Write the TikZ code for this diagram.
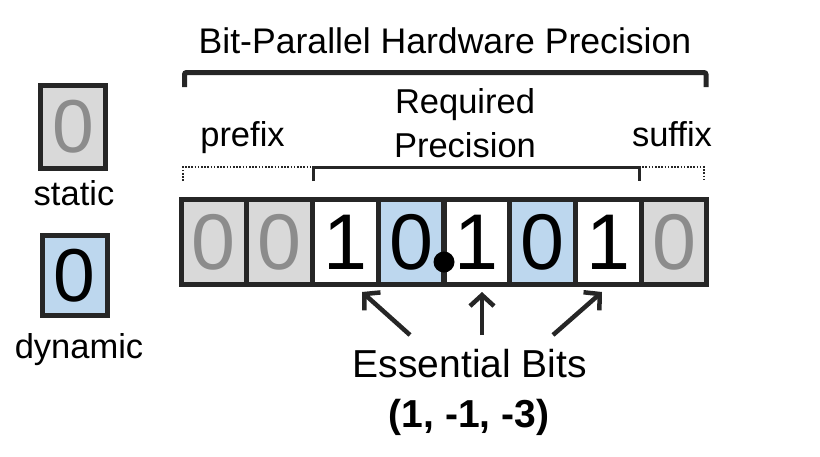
\documentclass[tikz,border=0pt]{standalone}
\usepackage{fontspec}
\setmainfont{Liberation Sans}
\usetikzlibrary{arrows.meta}
\definecolor{cellgray}{HTML}{D9D9D9}
\definecolor{cellblue}{HTML}{BDD7EE}
\definecolor{digitgray}{HTML}{8C8C8C}
\definecolor{edgecol}{HTML}{262626}
\begin{document}
\begin{tikzpicture}[x=1pt,y=-1pt,
  cellbox/.style={draw=edgecol, line width=5pt, inner sep=0pt, minimum width=65.75pt, minimum height=85pt, font=\fontsize{79}{90}\selectfont},
  staticcell/.style={cellbox, fill=cellgray, text=digitgray},
  dyncell/.style={cellbox, fill=cellblue, text=black},
  plaincell/.style={cellbox, fill=white, text=black},
  legendbox/.style={draw=edgecol, line width=5pt, inner sep=0pt, minimum width=65pt, font=\fontsize{75}{85}\selectfont},
  lbl/.style={inner sep=0pt, anchor=base},
  midfont/.style={font=\fontsize{34.5}{40}\selectfont},
  essarrow/.style={line width=4.5pt, draw=edgecol, -{Straight Barb[length=11pt,width=24pt]}},
]
\useasboundingbox (0,0) rectangle (820,456);
% title and big bracket
\node[lbl, font=\fontsize{35.6}{40}\selectfont] (title) at (445,53) {Bit-Parallel Hardware Precision};
\draw[line width=5pt, draw=edgecol, rounded corners=2pt] (184.5,87) -- (184.5,72.5) -- (706,72.5) -- (706,87);
% labels
\node[lbl, midfont] (req1) at (465,113) {Required};
\node[lbl, midfont] (req2) at (465,157) {Precision};
\node[lbl, midfont] (prefix) at (242.5,146) {prefix};
\node[lbl, midfont] (suffix) at (672,146) {suffix};
% small brackets
\draw[line width=2.2pt, draw=edgecol, dash pattern=on 1.6pt off 1.6pt] (183,181) -- (183,167) -- (313,167);
\draw[line width=2.2pt, draw=edgecol, dash pattern=on 1.6pt off 1.6pt] (639,167) -- (704,167) -- (704,181);
\draw[line width=3pt, draw=edgecol] (313,181) -- (313,167) -- (639,167) -- (639,181);
% cells
\node[staticcell] (c1) at (213.9,242) {0};
\node[staticcell] (c2) at (279.6,242) {0};
\node[plaincell]  (c3) at (345.4,242) {1};
\node[dyncell]    (c4) at (411.1,242) {0};
\node[plaincell]  (c5) at (476.9,242) {1};
\node[dyncell]    (c6) at (542.6,242) {0};
\node[plaincell]  (c7) at (608.4,242) {1};
\node[staticcell] (c8) at (674.1,242) {0};
\node[circle, fill=black, inner sep=0pt, minimum size=21pt] (pt) at (444,262) {};
% legend
\node[legendbox, fill=cellgray, text=digitgray, minimum height=83pt] (lstatic) at (73,127) {0};
\node[lbl, midfont] (tstatic) at (74,205) {static};
\node[legendbox, fill=cellblue, text=black, minimum height=80pt] (ldyn) at (74.5,275.5) {0};
\node[lbl, midfont] (tdyn) at (79,358) {dynamic};
% essential bits
\node[lbl, font=\fontsize{39}{44}\selectfont] (ess) at (470,377) {Essential Bits};
\node[lbl, font=\fontsize{39}{44}\bfseries\selectfont] (pos) at (469,427) {(1, -1, -3)};
\coordinate (t1) at (410,335); \coordinate (h1) at (362,292);
\coordinate (t2) at (482,335); \coordinate (h2) at (482,292);
\coordinate (t3) at (553,335); \coordinate (h3) at (602,292);
\draw[essarrow] (t1) -- (h1);
\draw[essarrow] (t2) -- (h2);
\draw[essarrow] (t3) -- (h3);
\end{tikzpicture}
\end{document}
